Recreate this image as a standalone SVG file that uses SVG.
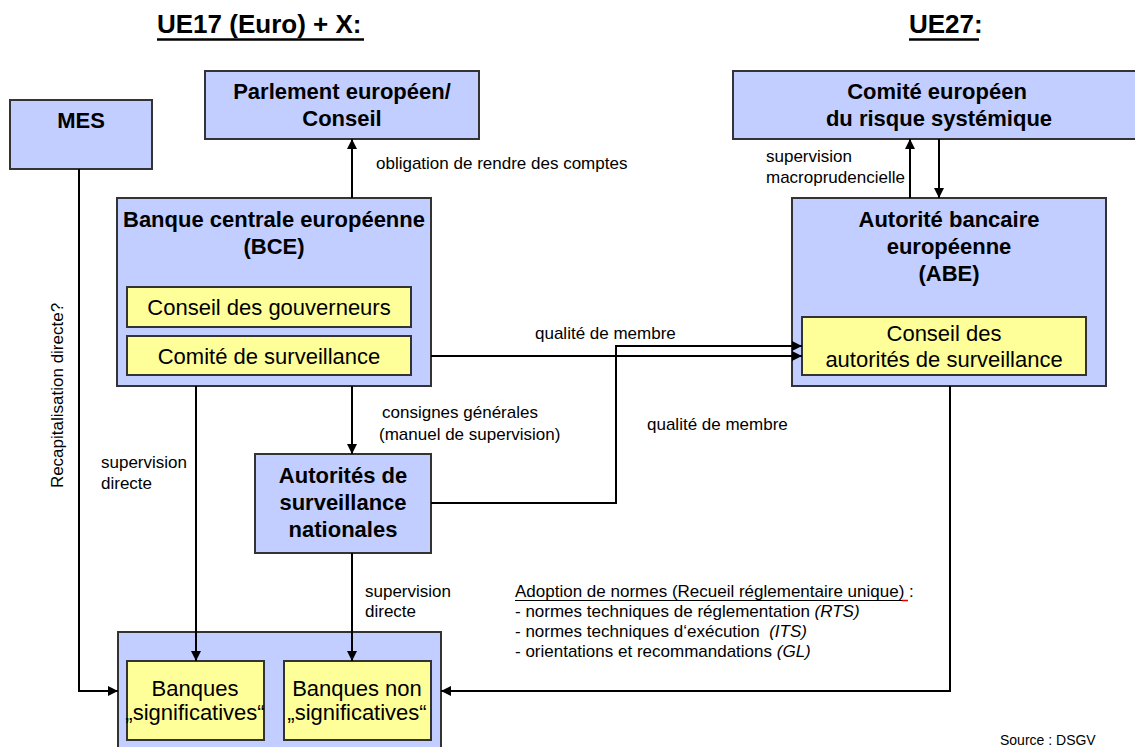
<svg xmlns="http://www.w3.org/2000/svg" width="1135" height="747" viewBox="0 0 1135 747">
<style>
text{font-family:"Liberation Sans",Arial,sans-serif;fill:#000}
.box{fill:#c2ceff;stroke:#333;stroke-width:2}
.inner{fill:#ffff99;stroke:#333;stroke-width:2}
.t{font-size:22px;font-weight:bold;text-anchor:middle}
.ti{font-size:22px;text-anchor:middle}
.l{font-size:17px}
.h{font-size:26px;font-weight:bold}
.c{fill:none;stroke:#000;stroke-width:2;marker-end:url(#ah)}
.u{stroke:#000}
</style>
<defs>
<marker id="ah" viewBox="0 0 10 10" refX="10" refY="5" markerWidth="10" markerHeight="10" markerUnits="userSpaceOnUse" orient="auto">
<path d="M0,0 L10,5 L0,10 Z" fill="#000"/>
</marker>
</defs>
<rect width="1135" height="747" fill="#fff"/>

<g id="headers">
<text class="h" x="157" y="33">UE17 (Euro) + X:</text>
<line class="u" x1="157" y1="39.5" x2="364" y2="39.5" stroke-width="2.5"/>
<text class="h" x="909" y="33">UE27:</text>
<line class="u" x1="909" y1="39.5" x2="979" y2="39.5" stroke-width="2.5"/>
</g>

<g id="mes">
<rect class="box" x="10" y="100" width="142" height="69"/>
<text class="t" x="81" y="128">MES</text>
</g>

<g id="parlement">
<rect class="box" x="205" y="71" width="274" height="68"/>
<text class="t" x="342" y="99">Parlement européen/</text>
<text class="t" x="342" y="126">Conseil</text>
</g>

<g id="cers">
<rect class="box" x="733" y="71" width="410" height="68"/>
<text class="t" x="937" y="99">Comité européen</text>
<text class="t" x="939" y="126">du risque systémique</text>
</g>

<g id="bce">
<rect class="box" x="117" y="198" width="314" height="188"/>
<text class="t" x="274" y="227">Banque centrale européenne</text>
<text class="t" x="274" y="254">(BCE)</text>
<rect class="inner" x="127" y="287" width="284" height="40"/>
<text class="ti" x="269" y="315">Conseil des gouverneurs</text>
<rect class="inner" x="127" y="336" width="284" height="39"/>
<text class="ti" x="269" y="364">Comité de surveillance</text>
</g>

<g id="abe">
<rect class="box" x="792" y="198" width="314" height="188"/>
<text class="t" x="949" y="227">Autorité bancaire</text>
<text class="t" x="949" y="254">européenne</text>
<text class="t" x="949" y="281">(ABE)</text>
<rect class="inner" x="802" y="317" width="284" height="58"/>
<text class="ti" x="944" y="341">Conseil des</text>
<text class="ti" x="944" y="367">autorités de surveillance</text>
</g>

<g id="ans">
<rect class="box" x="255" y="454" width="176" height="99"/>
<text class="t" x="343" y="483">Autorités de</text>
<text class="t" x="343" y="510">surveillance</text>
<text class="t" x="343" y="537">nationales</text>
</g>

<g id="banques">
<rect class="box" x="118" y="632" width="323" height="130"/>
<rect class="inner" x="127" y="661" width="137" height="79"/>
<text class="ti" x="195" y="696">Banques</text>
<text class="ti" x="195" y="720">„significatives“</text>
<rect class="inner" x="284" y="661" width="147" height="79"/>
<text class="ti" x="357" y="696">Banques non</text>
<text class="ti" x="357" y="720">„significatives“</text>
</g>

<g id="connectors">
<path class="c" d="M352,198 V139"/>
<path class="c" d="M79,169 V691 H118"/>
<path class="c" d="M431,356 H802"/>
<path class="c" d="M431,503 H616 V346 H802"/>
<path class="c" d="M352,386 V454"/>
<path class="c" d="M196,386 V661"/>
<path class="c" d="M352,553 V661"/>
<path class="c" d="M910,198 V139"/>
<path class="c" d="M939,139 V198"/>
<path class="c" d="M950,386 V691 H441"/>
</g>

<g id="labels">
<text class="l" x="376" y="169">obligation de rendre des comptes</text>
<text class="l" x="766" y="162">supervision</text>
<text class="l" x="766" y="183">macroprudencielle</text>
<text class="l" x="535" y="339">qualité de membre</text>
<text class="l" x="647" y="430">qualité de membre</text>
<text class="l" x="382" y="418">consignes générales</text>
<text class="l" x="379" y="440">(manuel de supervision)</text>
<text class="l" x="101" y="468">supervision</text>
<text class="l" x="101" y="489">directe</text>
<text class="l" x="365" y="597">supervision</text>
<text class="l" x="365" y="617">directe</text>
<text class="l" x="63" y="395.5" text-anchor="middle" transform="rotate(-90 63 395.5)">Recapitalisation directe?</text>
<text class="l" x="515" y="597">Adoption de normes (Recueil réglementaire unique) :</text>
<line class="u" x1="515" y1="600.5" x2="902" y2="600.5" stroke-width="1.2"/>
<line x1="902" y1="600.5" x2="908" y2="600.5" stroke="#e00000" stroke-width="1.5"/>
<text class="l" x="515" y="617">- normes techniques de réglementation <tspan font-style="italic">(RTS)</tspan></text>
<text class="l" x="515" y="637">- normes techniques d‘exécution&#160; <tspan font-style="italic">(ITS)</tspan></text>
<text class="l" x="515" y="657">- orientations et recommandations <tspan font-style="italic">(GL)</tspan></text>
<text x="1000" y="745" font-size="14">Source : DSGV</text>
</g>
</svg>
